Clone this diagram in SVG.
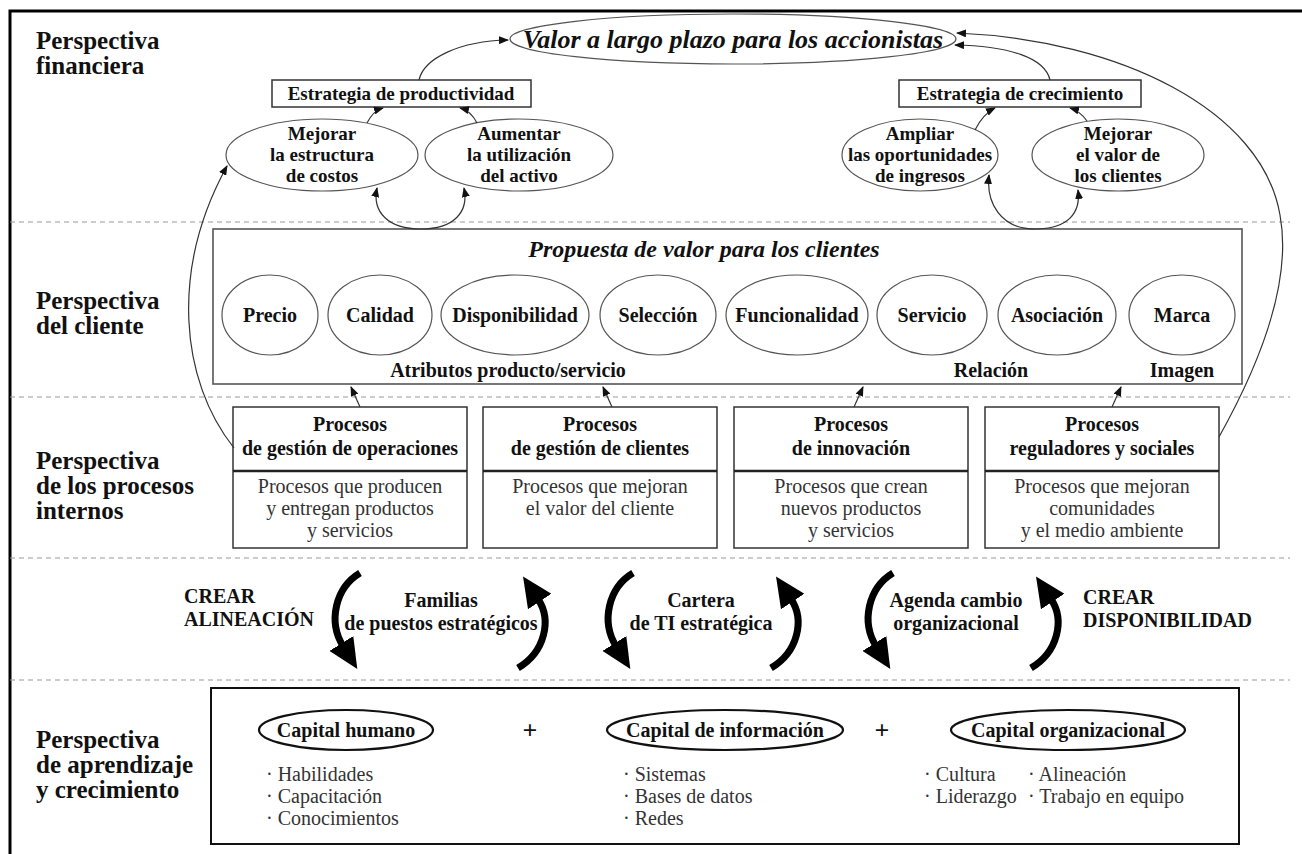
<svg xmlns="http://www.w3.org/2000/svg" width="1302" height="854" viewBox="0 0 1302 854">
<defs>
<style>
text{font-family:"Liberation Serif","Times New Roman",serif;fill:#111}
.lbl{font-size:25px;font-weight:bold}
.b{font-size:20px;font-weight:bold}
.bf{font-size:19px;font-weight:bold}
.r{font-size:20px;fill:#333}
.bi{font-weight:bold;font-style:italic}
.m{text-anchor:middle}
.plus{font-size:26px;font-weight:bold}
.sep{stroke:#9a9a9a;stroke-width:1.2;stroke-dasharray:5 4;fill:none}
.el{fill:none;stroke:#555;stroke-width:1.2}
.box{fill:none;stroke:#333;stroke-width:1.5}
.pbox{fill:none;stroke:#555;stroke-width:1.6}
.cap{fill:none;stroke:#111;stroke-width:2.2}
.c{fill:none;stroke:#333;stroke-width:1.2;marker-end:url(#ah)}
.k{fill:none;stroke:#000;stroke-width:7;marker-end:url(#bh)}
</style>
<marker id="ah" viewBox="0 0 10 8" refX="9" refY="4" markerWidth="10" markerHeight="8" markerUnits="userSpaceOnUse" orient="auto">
<path d="M0,0 L10,4 L0,8 z" fill="#111"/>
</marker>
<marker id="bh" viewBox="0 0 30 28" refX="3" refY="14" markerWidth="30" markerHeight="28" markerUnits="userSpaceOnUse" orient="auto">
<path d="M0,0 L30,14 L0,28 z" fill="#000"/>
</marker>
</defs>
<rect width="1302" height="854" fill="#fff"/>
<!-- outer frame -->
<path d="M10 854 V11 H1302" fill="none" stroke="#000" stroke-width="3"/>

<!-- band separators -->
<g id="separators">
<line class="sep" x1="10" y1="222" x2="1290" y2="222"/>
<line class="sep" x1="10" y1="397" x2="1290" y2="397"/>
<line class="sep" x1="10" y1="558" x2="1290" y2="558"/>
<line class="sep" x1="10" y1="680" x2="1290" y2="680"/>
</g>

<!-- perspective labels -->
<g id="labels">
<text class="lbl" x="36" y="49">Perspectiva</text>
<text class="lbl" x="36" y="74">financiera</text>
<text class="lbl" x="36" y="309">Perspectiva</text>
<text class="lbl" x="36" y="334">del cliente</text>
<text class="lbl" x="36" y="469">Perspectiva</text>
<text class="lbl" x="36" y="494">de los procesos</text>
<text class="lbl" x="36" y="519">internos</text>
<text class="lbl" x="36" y="748">Perspectiva</text>
<text class="lbl" x="36" y="773">de aprendizaje</text>
<text class="lbl" x="36" y="798">y crecimiento</text>
</g>

<!-- financial perspective -->
<g id="valor">
<ellipse class="el" cx="733" cy="39" rx="223" ry="25"/>
<text class="bi m" x="733" y="48" font-size="26">Valor a largo plazo para los accionistas</text>
</g>
<g id="estrategia-productividad">
<rect class="box" x="272" y="80" width="259" height="27"/>
<text class="bf m" x="401" y="100">Estrategia de productividad</text>
</g>
<g id="estrategia-crecimiento">
<rect class="box" x="899" y="80" width="242" height="27"/>
<text class="bf m" x="1020" y="100">Estrategia de crecimiento</text>
</g>
<g id="mejorar-costos">
<ellipse class="el" cx="322" cy="155" rx="96" ry="36"/>
<text class="bf m" x="322" y="140">Mejorar</text>
<text class="bf m" x="322" y="161">la estructura</text>
<text class="bf m" x="322" y="182">de costos</text>
</g>
<g id="aumentar-activo">
<ellipse class="el" cx="519" cy="155" rx="94" ry="36"/>
<text class="bf m" x="519" y="140">Aumentar</text>
<text class="bf m" x="519" y="161">la utilización</text>
<text class="bf m" x="519" y="182">del activo</text>
</g>
<g id="ampliar-ingresos">
<ellipse class="el" cx="920" cy="155" rx="78" ry="36"/>
<text class="bf m" x="920" y="140">Ampliar</text>
<text class="bf m" x="920" y="161">las oportunidades</text>
<text class="bf m" x="920" y="182">de ingresos</text>
</g>
<g id="mejorar-valor-clientes">
<ellipse class="el" cx="1118" cy="155" rx="86" ry="36"/>
<text class="bf m" x="1118" y="140">Mejorar</text>
<text class="bf m" x="1118" y="161">el valor de</text>
<text class="bf m" x="1118" y="182">los clientes</text>
</g>

<!-- customer perspective -->
<g id="propuesta-valor">
<rect class="pbox" x="213" y="229" width="1029" height="155"/>
<text class="bi m" x="704" y="257" font-size="24">Propuesta de valor para los clientes</text>
<text class="b m" x="508" y="377">Atributos producto/servicio</text>
<text class="b m" x="991" y="377">Relación</text>
<text class="b m" x="1182" y="377">Imagen</text>
</g>
<g id="precio"><ellipse class="el" cx="270" cy="315" rx="48" ry="40"/><text class="b m" x="270" y="322">Precio</text></g>
<g id="calidad"><ellipse class="el" cx="380" cy="315" rx="52" ry="40"/><text class="b m" x="380" y="322">Calidad</text></g>
<g id="disponibilidad"><ellipse class="el" cx="515" cy="315" rx="74" ry="40"/><text class="b m" x="515" y="322">Disponibilidad</text></g>
<g id="seleccion"><ellipse class="el" cx="658" cy="315" rx="58" ry="40"/><text class="b m" x="658" y="322">Selección</text></g>
<g id="funcionalidad"><ellipse class="el" cx="797" cy="315" rx="71" ry="40"/><text class="b m" x="797" y="322">Funcionalidad</text></g>
<g id="servicio"><ellipse class="el" cx="932" cy="315" rx="55" ry="40"/><text class="b m" x="932" y="322">Servicio</text></g>
<g id="asociacion"><ellipse class="el" cx="1057" cy="315" rx="59" ry="40"/><text class="b m" x="1057" y="322">Asociación</text></g>
<g id="marca"><ellipse class="el" cx="1182" cy="315" rx="53" ry="40"/><text class="b m" x="1182" y="322">Marca</text></g>

<!-- internal process perspective -->
<g id="procesos-operaciones">
<rect class="box" x="233" y="407" width="234" height="141"/>
<line x1="233" y1="471" x2="467" y2="471" stroke="#222" stroke-width="2.5"/>
<text class="b m" x="350" y="431">Procesos</text>
<text class="b m" x="350" y="455">de gestión de operaciones</text>
<text class="r m" x="350" y="493">Procesos que producen</text>
<text class="r m" x="350" y="515">y entregan productos</text>
<text class="r m" x="350" y="537">y servicios</text>
</g>
<g id="procesos-clientes">
<rect class="box" x="483" y="407" width="234" height="141"/>
<line x1="483" y1="471" x2="717" y2="471" stroke="#222" stroke-width="2.5"/>
<text class="b m" x="600" y="431">Procesos</text>
<text class="b m" x="600" y="455">de gestión de clientes</text>
<text class="r m" x="600" y="493">Procesos que mejoran</text>
<text class="r m" x="600" y="515">el valor del cliente</text>
</g>
<g id="procesos-innovacion">
<rect class="box" x="734" y="407" width="234" height="141"/>
<line x1="734" y1="471" x2="968" y2="471" stroke="#222" stroke-width="2.5"/>
<text class="b m" x="851" y="431">Procesos</text>
<text class="b m" x="851" y="455">de innovación</text>
<text class="r m" x="851" y="493">Procesos que crean</text>
<text class="r m" x="851" y="515">nuevos productos</text>
<text class="r m" x="851" y="537">y servicios</text>
</g>
<g id="procesos-reguladores">
<rect class="box" x="985" y="407" width="234" height="141"/>
<line x1="985" y1="471" x2="1219" y2="471" stroke="#222" stroke-width="2.5"/>
<text class="b m" x="1102" y="431">Procesos</text>
<text class="b m" x="1102" y="455">reguladores y sociales</text>
<text class="r m" x="1102" y="493">Procesos que mejoran</text>
<text class="r m" x="1102" y="515">comunidades</text>
<text class="r m" x="1102" y="537">y el medio ambiente</text>
</g>

<!-- alignment band labels -->
<g id="alineacion-labels">
<text class="b" x="184" y="603">CREAR</text>
<text class="b" x="184" y="626">ALINEACIÓN</text>
<text class="b m" x="441" y="607">Familias</text>
<text class="b m" x="441" y="630">de puestos estratégicos</text>
<text class="b m" x="701" y="607">Cartera</text>
<text class="b m" x="701" y="630">de TI estratégica</text>
<text class="b m" x="956" y="607">Agenda cambio</text>
<text class="b m" x="956" y="630">organizacional</text>
<text class="b" x="1083" y="604">CREAR</text>
<text class="b" x="1083" y="627">DISPONIBILIDAD</text>
</g>

<!-- learning and growth perspective -->
<g id="aprendizaje">
<rect x="211" y="688" width="1028" height="156" fill="none" stroke="#111" stroke-width="2"/>
<text class="plus m" x="530" y="739">+</text>
<text class="plus m" x="882" y="739">+</text>
</g>
<g id="capital-humano">
<ellipse class="cap" cx="346" cy="730" rx="87" ry="20"/>
<text class="b m" x="346" y="737">Capital humano</text>
<text class="r" x="266" y="781">· Habilidades</text>
<text class="r" x="266" y="803">· Capacitación</text>
<text class="r" x="266" y="825">· Conocimientos</text>
</g>
<g id="capital-informacion">
<ellipse class="cap" cx="725" cy="730" rx="118" ry="20"/>
<text class="b m" x="725" y="737">Capital de información</text>
<text class="r" x="623" y="781">· Sistemas</text>
<text class="r" x="623" y="803">· Bases de datos</text>
<text class="r" x="623" y="825">· Redes</text>
</g>
<g id="capital-organizacional">
<ellipse class="cap" cx="1068" cy="730" rx="117" ry="20"/>
<text class="b m" x="1068" y="737">Capital organizacional</text>
<text class="r" x="924" y="781">· Cultura</text>
<text class="r" x="924" y="803">· Liderazgo</text>
<text class="r" x="1028" y="781">· Alineación</text>
<text class="r" x="1028" y="803">· Trabajo en equipo</text>
</g>

<!-- connectors -->
<g id="connectors">
<path class="c" d="M419 80 C424 58 460 41 508 40"/>
<path class="c" d="M1050 80 C1045 58 1010 46 955 45"/>
<path class="c" d="M1219 437 C1262 360 1292 280 1280 215 C1262 110 1120 40 957 33"/>
<path class="c" d="M234 448 C180 380 170 270 227 166"/>
<path class="c" d="M367 123 C371 115 376 110 383 108"/>
<path class="c" d="M477 123 C473 115 468 110 460 108"/>
<path class="c" d="M975 130 C980 120 987 112 995 108"/>
<path class="c" d="M1087 121 C1082 114 1077 110 1070 108"/>
<path class="c" d="M421 229 C388 229 372 212 377 188"/>
<path class="c" d="M421 229 C454 229 469 212 464 188"/>
<path class="c" d="M1035 229 C1000 229 986 202 989 175"/>
<path class="c" d="M1035 229 C1068 229 1081 213 1078 190"/>
<path class="c" d="M360 407 L351 387"/>
<path class="c" d="M612 407 L603 387"/>
<path class="c" d="M854 407 L863 387"/>
<path class="c" d="M1112 407 L1121 387"/>
<path class="k" d="M360 573 C335 588 328 622 343 646"/>
<path class="k" d="M518 668 C545 652 552 620 538 599"/>
<path class="k" d="M633 573 C608 588 601 622 616 646"/>
<path class="k" d="M771 668 C798 652 805 620 791 599"/>
<path class="k" d="M893 573 C868 588 861 622 876 646"/>
<path class="k" d="M1031 668 C1058 652 1065 620 1051 599"/>
</g>
</svg>
